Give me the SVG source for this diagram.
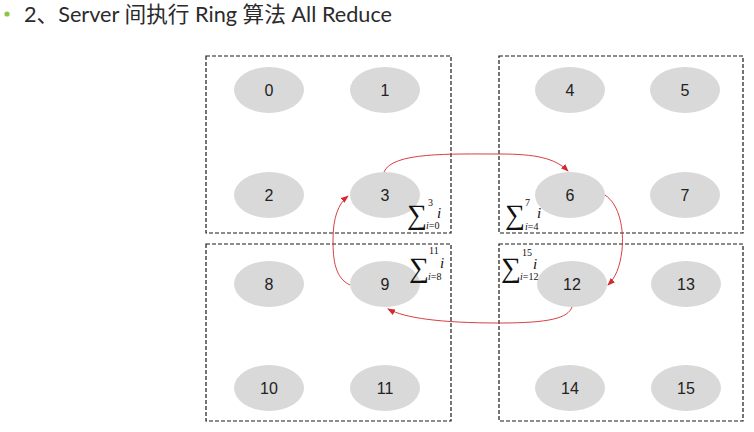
<svg xmlns="http://www.w3.org/2000/svg" width="754" height="432" viewBox="0 0 754 432">
<defs>
<style>
.box{fill:none;stroke:#1a1a1a;stroke-width:1.2;stroke-dasharray:4,2}
.nd{fill:#d9d9d9}
.lb{font-family:"Liberation Sans",Arial,sans-serif;font-size:16px;fill:#222;text-anchor:middle}
.ar{fill:none;stroke:#d42a2f;stroke-width:0.9;marker-end:url(#ah)}
.sg{font-family:"Liberation Serif","DejaVu Serif",serif;font-size:28px;fill:#111}
.lim{font-family:"Liberation Serif",serif;font-size:10px;fill:#111}
.it{font-family:"Liberation Serif",serif;font-size:15px;font-style:italic;fill:#111}
.iv{font-style:italic}
</style>
<marker id="ah" markerWidth="8" markerHeight="6" refX="7" refY="3" orient="auto" markerUnits="userSpaceOnUse">
<path d="M0,0 L8,3 L0,6 z" fill="#d42a2f"/>
</marker>
</defs>
<rect width="754" height="432" fill="#fff"/>
<g id="title">
<circle cx="7" cy="14" r="2.6" fill="#8cc63e"/>
<text x="24" y="22" font-family="Lato,'Noto Sans CJK SC',sans-serif" font-size="21.5" fill="#2b2b2b" textLength="368" lengthAdjust="spacingAndGlyphs">2、Server 间执行 Ring 算法 All Reduce</text>
</g>
<g id="servers">
<rect id="server-tl" class="box" x="206" y="56" width="245" height="177"/>
<rect id="server-tr" class="box" x="499" y="56" width="244" height="177"/>
<rect id="server-bl" class="box" x="206" y="244" width="245" height="177"/>
<rect id="server-br" class="box" x="499" y="244" width="244" height="177"/>
</g>
<g id="n0"><ellipse class="nd" cx="269" cy="90" rx="35" ry="23"/><text class="lb" x="269" y="96">0</text></g>
<g id="n1"><ellipse class="nd" cx="385" cy="90" rx="35" ry="23"/><text class="lb" x="385" y="96">1</text></g>
<g id="n2"><ellipse class="nd" cx="269" cy="195" rx="35" ry="23"/><text class="lb" x="269" y="201">2</text></g>
<g id="n3"><ellipse class="nd" cx="385" cy="195" rx="35" ry="23"/><text class="lb" x="385" y="201">3</text></g>
<g id="n4"><ellipse class="nd" cx="570" cy="90" rx="35" ry="23"/><text class="lb" x="570" y="96">4</text></g>
<g id="n5"><ellipse class="nd" cx="685" cy="90" rx="35" ry="23"/><text class="lb" x="685" y="96">5</text></g>
<g id="n6"><ellipse class="nd" cx="570" cy="195" rx="35" ry="23"/><text class="lb" x="570" y="201">6</text></g>
<g id="n7"><ellipse class="nd" cx="685" cy="195" rx="35" ry="23"/><text class="lb" x="685" y="201">7</text></g>
<g id="n8"><ellipse class="nd" cx="269" cy="284" rx="35" ry="23"/><text class="lb" x="269" y="290">8</text></g>
<g id="n9"><ellipse class="nd" cx="385" cy="284" rx="35" ry="23"/><text class="lb" x="385" y="290">9</text></g>
<g id="n10"><ellipse class="nd" cx="269" cy="388" rx="35" ry="23"/><text class="lb" x="269" y="394">10</text></g>
<g id="n11"><ellipse class="nd" cx="385" cy="388" rx="35" ry="23"/><text class="lb" x="385" y="394">11</text></g>
<g id="n12"><ellipse class="nd" cx="572" cy="284" rx="35" ry="23"/><text class="lb" x="572" y="290">12</text></g>
<g id="n13"><ellipse class="nd" cx="686" cy="284" rx="35" ry="23"/><text class="lb" x="686" y="290">13</text></g>
<g id="n14"><ellipse class="nd" cx="570" cy="388" rx="35" ry="23"/><text class="lb" x="570" y="394">14</text></g>
<g id="n15"><ellipse class="nd" cx="686" cy="388" rx="35" ry="23"/><text class="lb" x="686" y="394">15</text></g>
<g id="sums">
<text class="sg" x="407" y="224">∑</text><text class="lim" x="428" y="206">3</text><text class="it" x="437" y="218">i</text><text class="lim" x="426" y="229"><tspan class="iv">i</tspan>=0</text>
<text class="sg" x="505" y="224">∑</text><text class="lim" x="525" y="206">7</text><text class="it" x="537" y="218">i</text><text class="lim" x="525" y="230"><tspan class="iv">i</tspan>=4</text>
<text class="sg" x="501" y="277">∑</text><text class="lim" x="522" y="256">15</text><text class="it" x="533" y="269">i</text><text class="lim" x="520" y="280"><tspan class="iv">i</tspan>=12</text>
<text class="sg" x="409" y="277">∑</text><text class="lim" x="429" y="254">11</text><text class="it" x="440" y="268">i</text><text class="lim" x="428" y="280"><tspan class="iv">i</tspan>=8</text>
</g>
<g id="connectors">
<path class="ar" d="M384,172 C392,152 450,154 500,154 C535,154 555,158 568,171"/>
<path class="ar" d="M605,195 C620,205 624,230 622,250 C620,268 615,278 608,285"/>
<path class="ar" d="M572,307 C568,318 550,323 500,323 C440,323 405,318 388,309"/>
<path class="ar" d="M350,285 C335,278 333,260 333,240 C333,218 338,204 348,196"/>
</g>
</svg>
